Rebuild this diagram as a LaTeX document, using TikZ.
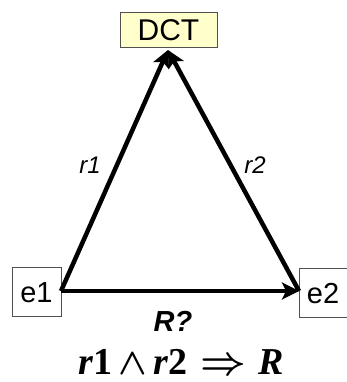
\documentclass[tikz,border=0pt]{standalone}
\usepackage{amsmath}
\usepackage{fontspec}
\setmainfont{Liberation Sans}
\newfontfamily\fserif{Liberation Serif}
\usetikzlibrary{arrows.meta}
\definecolor{dctfill}{HTML}{FFFFCC}
\definecolor{boxline}{HTML}{505050}
\tikzset{
  ebox/.style={draw=boxline, line width=1pt, minimum width=49pt, minimum height=49pt, inner sep=0pt, font=\fontsize{29}{29}\selectfont},
  dctbox/.style={ebox, fill=dctfill, minimum width=97pt, minimum height=35pt, font=\fontsize{30}{30}\selectfont},
  conn/.style={line width=4.5pt, -{Stealth[length=17pt,width=17pt,inset=4pt]}},
  rlab/.style={font=\fontsize{24}{24}\selectfont\itshape},
}
\begin{document}
\begin{tikzpicture}[x=1pt,y=1pt]
\useasboundingbox (0,0) rectangle (347,382);
\node[dctbox] (dct) at (168.5,351.5) {DCT};
\node[ebox] (e1) at (36.5,89.5) {e1};
\node[ebox, minimum width=48pt] (e2) at (323,88.5) {e2};
\coordinate (apex) at (168,332);
\coordinate (l1) at (61,91);
\coordinate (r1c) at (299,91);
\draw[conn] (l1) -- (apex);
\draw[conn] (r1c) -- (apex);
\draw[conn] (l1) -- (r1c);
\node[rlab] (lr1) at (90,217) {r1};
\node[rlab] (lr2) at (255,217) {r2};
\node[font=\fontsize{29}{29}\selectfont\bfseries\itshape] (rq) at (173,61) {R?};
\node[anchor=base, inner sep=0pt, font=\fontsize{38}{38}\selectfont\fserif\bfseries] (form) at (181,7)
  {\textit{r}1\,\raisebox{1pt}{\scalebox{1.5}{$\boldsymbol{\wedge}$}}\,\textit{r}2\,\,\scalebox{1.6}{$\boldsymbol{\Rightarrow}$}\,\,\textit{R}};
\end{tikzpicture}
\end{document}
